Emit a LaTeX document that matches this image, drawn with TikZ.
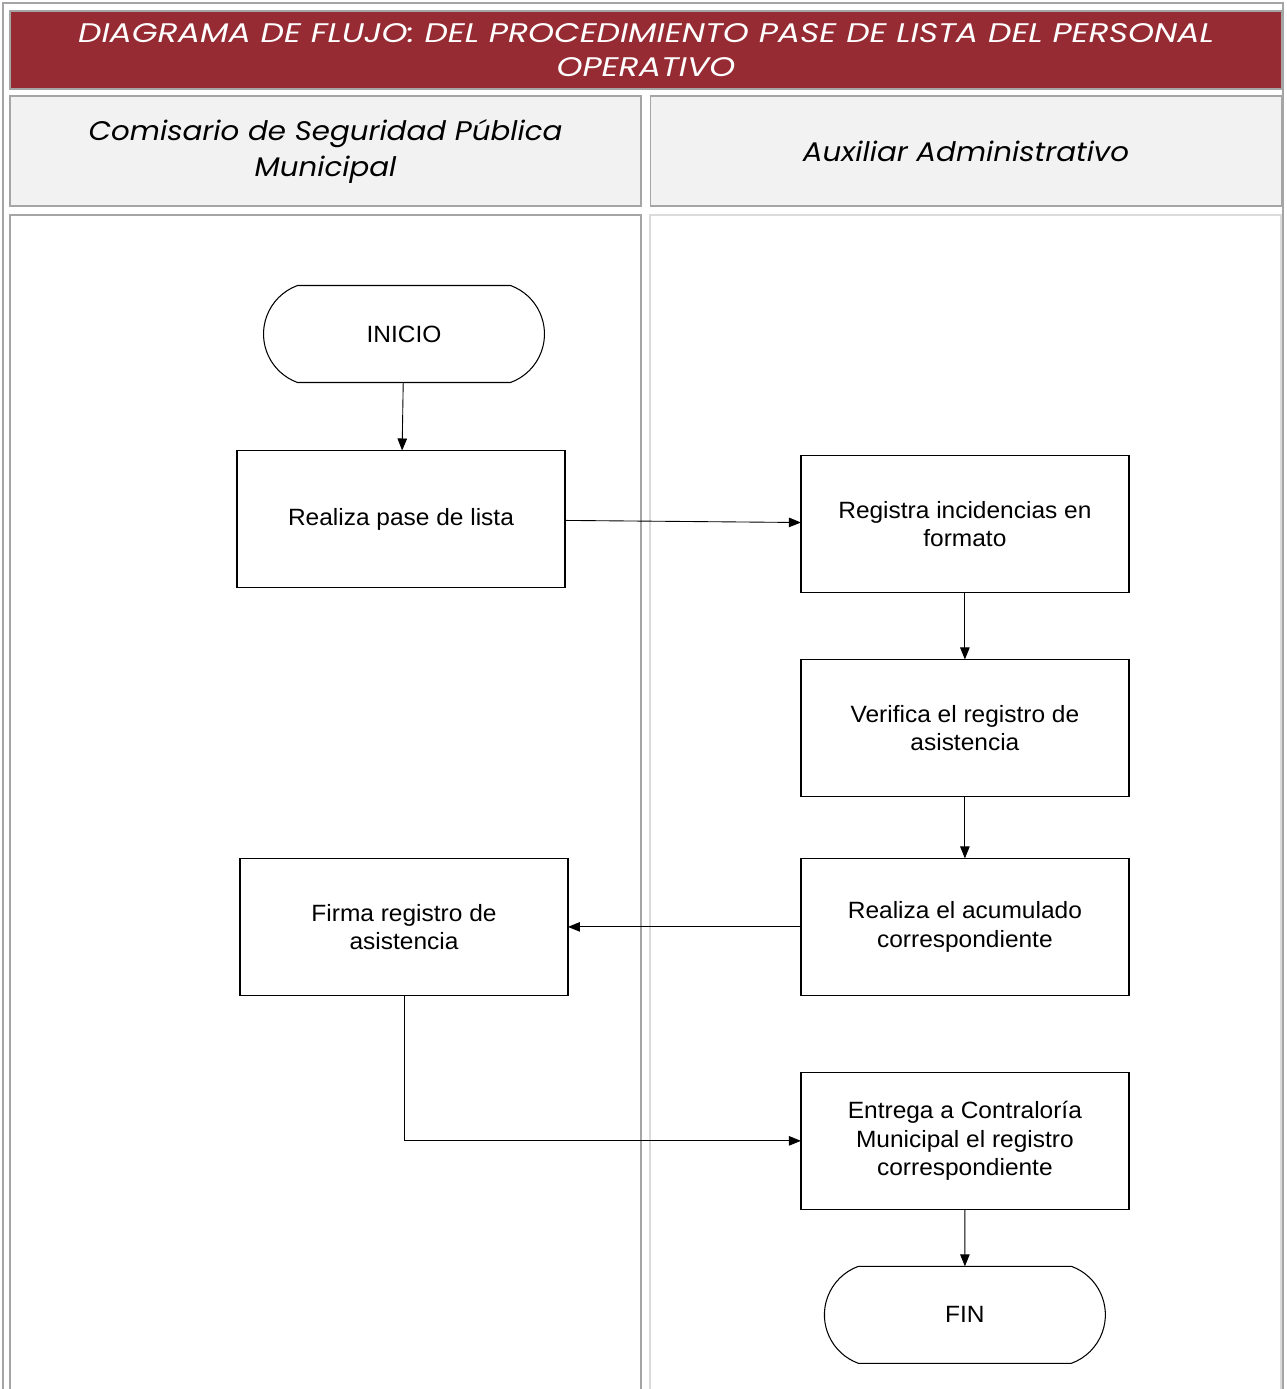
\documentclass[tikz,border=0pt]{standalone}
\usepackage{fontspec}
\setmainfont{Liberation Sans}[FakeStretch=1.04]
\newfontfamily\titlefont{Poppins}[FakeStretch=1.23]
\newfontfamily\lanefont{Poppins}[FakeStretch=1.09]
\usetikzlibrary{arrows.meta, shapes.misc}
\usetikzlibrary{positioning}
\definecolor{guinda}{RGB}{150,43,51}
\definecolor{grisCelda}{RGB}{242,242,242}
\definecolor{grisBorde}{RGB}{165,165,165}
\tikzstyle{proceso} = [draw, rectangle, line width=0.8pt, inner sep=0pt, outer sep=0pt,
   minimum width=6.56cm, minimum height=2.74cm, align=center,
   font=\fontsize{13.4}{16.1}\selectfont]
\tikzstyle{terminal} = [draw, rounded rectangle, rounded rectangle arc length=140,
   line width=0.6pt, inner sep=0pt, outer sep=0pt, minimum width=5.62cm, minimum height=1.94cm,
   font=\fontsize{13.4}{16.1}\selectfont]
\tikzstyle{flujo} = [-{Triangle[length=2.4mm,width=1.9mm]}, line width=0.5pt]
\tikzstyle{encabezado} = [fill=grisCelda, draw=grisBorde, line width=1pt, inner sep=0pt,
   minimum width=12.62cm, minimum height=2.2cm, align=center,
   font=\lanefont\itshape\fontsize{15.3}{20.5}\selectfont]
\tikzstyle{carril} = [draw=grisBorde, line width=0.8pt]

\begin{document}
\begin{tikzpicture}[x=0.02cm, y=-0.02cm]
  \useasboundingbox (0,0) rectangle (1286,1389);
  % table frame and lanes
  \draw[carril] (3,1389) -- (3,3) -- (1283,3) -- (1283,1389);
  \draw[carril] (10,1389) -- (10,215) -- (641,215) -- (641,1389);
  \draw[carril, draw=grisBorde!40] (650,1389) -- (650,215) -- (1281,215) -- (1281,1389);
  \node[fill=guinda, draw=grisBorde, line width=1pt, inner sep=0pt,
        minimum width=25.44cm, minimum height=1.56cm, align=center, text=white,
        font=\titlefont\itshape\fontsize{15.3}{19.5}\selectfont] (titulo) at (646,50)
        {DIAGRAMA DE FLUJO: DEL PROCEDIMIENTO PASE DE LISTA DEL PERSONAL\\OPERATIVO};
  \node[encabezado] (comisario) at (325.5,151) {Comisario de Seguridad Pública\\Municipal};
  \node[encabezado] (auxiliar) at (966,151) {Auxiliar Administrativo};

  \node[terminal] (inicio) at (404,334) {INICIO};
  \node[proceso, below=1.36cm of inicio, xshift=-0.06cm] (pase) {Realiza pase de lista};
  \node[proceso, right=4.72cm of pase, yshift=-0.1cm] (registra) {Registra incidencias en\\formato};
  \node[proceso, below=1.34cm of registra] (verifica) {Verifica el registro de\\asistencia};
  \node[proceso, below=1.24cm of verifica] (acumulado) {Realiza el acumulado\\correspondiente};
  \node[proceso, left=4.66cm of acumulado] (firma) {Firma registro de\\asistencia};
  \node[proceso, below=1.54cm of acumulado] (entrega) {Entrega a Contraloría\\Municipal el registro\\correspondiente};
  \node[terminal, below=1.14cm of entrega] (fin) {FIN};

  \draw[flujo] (inicio) to (pase);
  \draw[flujo] (pase) to (registra);
  \draw[flujo] (registra) to (verifica);
  \draw[flujo] (verifica) to (acumulado);
  \draw[flujo] (acumulado) to (firma);
  \draw[flujo] (firma) |- (entrega);
  \draw[flujo] (entrega) to (fin);
\end{tikzpicture}
\end{document}
